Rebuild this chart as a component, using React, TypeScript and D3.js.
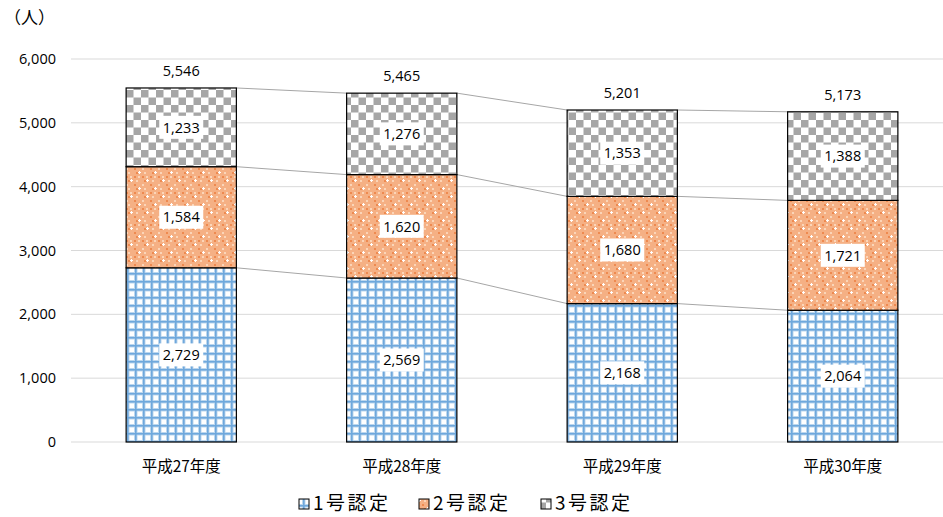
import React from "react";
import * as d3 from "d3";

const categories = ["平成27年度", "平成28年度", "平成29年度", "平成30年度"];
const seriesNames = ["1号認定", "2号認定", "3号認定"];
const nintei1 = [2729, 2569, 2168, 2064];
const nintei2 = [1584, 1620, 1680, 1721];
const nintei3 = [1233, 1276, 1353, 1388];
const yTicks = [0, 1000, 2000, 3000, 4000, 5000, 6000];

const W = 943;
const H = 517;
const FONT = "'Open Sans', 'Noto Sans', 'Noto Sans CJK JP', sans-serif";
const JFONT = "'Noto Sans CJK JP', 'Noto Sans', sans-serif";

export default function App() {
  const x = d3
    .scaleBand<string>()
    .domain(categories)
    .range([71, 953])
    .paddingInner(0.5)
    .paddingOuter(0.25);
  const y = d3.scaleLinear().domain([0, 6000]).range([442, 59]);
  const fmt = d3.format(",");

  const rows = categories.map((c, i) => ({
    cat: c,
    s0: nintei1[i],
    s1: nintei2[i],
    s2: nintei3[i],
  }));
  const stack = d3.stack<any>().keys(["s0", "s1", "s2"])(rows);
  const fills = ["url(#pBlue)", "url(#pOrange)", "url(#pGray)"];
  const bw = x.bandwidth();

  return (
    <svg width={W} height={H} style={{ position: "absolute", left: 0, top: 0, background: "#fff" }}>
      <defs>
        <pattern id="pBlue" patternUnits="userSpaceOnUse" width={8} height={8} x={126} y={0}>
          <rect width={8} height={8} fill="#ffffff" />
          <rect x={0} y={0} width={3.5} height={8} fill="#bdd7ee" />
          <rect x={0} y={0} width={8} height={3.5} fill="#bdd7ee" />
          <rect x={1} y={0} width={1.6} height={8} fill="#6fa8dc" />
          <rect x={0} y={1} width={8} height={1.6} fill="#6fa8dc" />
        </pattern>
        <pattern id="pOrange" patternUnits="userSpaceOnUse" width={16} height={16} x={126} y={0}>
          <rect width={16} height={16} fill="#f5b084" />
          <rect x={0} y={0} width={2} height={2} fill="#ee8a50" />
          <rect x={4} y={0} width={2} height={2} fill="#fbd5b8" />
          <rect x={8} y={0} width={2} height={2} fill="#ee8a50" />
          <rect x={12} y={0} width={2} height={2} fill="#fbd5b8" />
          <rect x={2} y={4} width={2} height={2} fill="#ee8a50" />
          <rect x={10} y={4} width={2} height={2} fill="#fbd5b8" />
          <rect x={0} y={8} width={2} height={2} fill="#fbd5b8" />
          <rect x={8} y={8} width={2} height={2} fill="#ee8a50" />
          <rect x={2} y={12} width={2} height={2} fill="#fbd5b8" />
          <rect x={10} y={12} width={2} height={2} fill="#ee8a50" />
          <rect x={5} y={3} width={1} height={3} fill="#ffffff" />
          <rect x={4} y={4} width={3} height={1} fill="#ffffff" />
          <rect x={13} y={11} width={1} height={3} fill="#ffffff" />
          <rect x={12} y={12} width={3} height={1} fill="#ffffff" />
        </pattern>
        <pattern id="pGray" patternUnits="userSpaceOnUse" width={15} height={15} x={126} y={0}>
          <rect width={15} height={15} fill="#ffffff" />
          <rect x={0} y={0} width={7.5} height={7.5} fill="#a6a6a6" />
          <rect x={7.5} y={7.5} width={7.5} height={7.5} fill="#a6a6a6" />
        </pattern>
      </defs>

      <text x={4} y={24} fontFamily={JFONT} fontSize={17} fill="#000">（人）</text>

      {yTicks.map((t) => (
        <g key={t}>
          <line x1={71} x2={943} y1={y(t)} y2={y(t)} stroke="#d9d9d9" strokeWidth={1} />
          <text x={56} y={y(t)} dy="0.35em" textAnchor="end" fontFamily={FONT} fontSize={14.5} fill="#000">
            {fmt(t)}
          </text>
        </g>
      ))}

      {/* connector lines between stack boundaries of neighbouring bars */}
      {stack.map((layer, si) =>
        layer.slice(0, -1).map((d, i) => {
          const next = layer[i + 1];
          return (
            <line
              key={`c-${si}-${i}`}
              x1={(x(categories[i]) as number) + bw}
              y1={y(d[1])}
              x2={x(categories[i + 1]) as number}
              y2={y(next[1])}
              stroke="#a6a6a6"
              strokeWidth={1}
            />
          );
        })
      )}

      {stack.map((layer, si) =>
        layer.map((d, i) => (
          <rect
            key={`b-${si}-${i}`}
            x={x(categories[i])}
            y={y(d[1])}
            width={bw}
            height={y(d[0]) - y(d[1])}
            fill={fills[si]}
            stroke="#000"
            strokeWidth={1.2}
          />
        ))
      )}

      {stack.map((layer, si) =>
        layer.map((d, i) => {
          const v = d[1] - d[0];
          const cx = (x(categories[i]) as number) + bw / 2;
          const cy = (y(d[0]) + y(d[1])) / 2;
          const label = fmt(v);
          const tw = 44;
          return (
            <g key={`l-${si}-${i}`}>
              <rect x={cx - tw / 2} y={cy - 11.5} width={tw} height={23} fill="#fff" />
              <text x={cx} y={cy} dy="0.36em" textAnchor="middle" fontFamily={FONT} fontSize={14.5} fill="#000">
                {label}
              </text>
            </g>
          );
        })
      )}

      {categories.map((c, i) => {
        const total = nintei1[i] + nintei2[i] + nintei3[i];
        const cx = (x(c) as number) + bw / 2;
        return (
          <g key={`t-${c}`}>
            <text x={cx} y={y(total) - 12} textAnchor="middle" fontFamily={FONT} fontSize={14.5} fill="#000">
              {fmt(total)}
            </text>
            <text x={cx} y={472} textAnchor="middle" fontFamily={JFONT} fontSize={15.5} fill="#000">
              {c}
            </text>
          </g>
        );
      })}

      {seriesNames.map((s, i) => {
        const lx = [299, 419, 541][i];
        return (
          <g key={s}>
            <rect x={lx} y={499} width={10} height={10} fill={fills[i]} stroke="#000" strokeWidth={1} />
            <text
              x={lx + 14}
              y={503}
              dy="0.35em"
              fontFamily={JFONT}
              fontSize={19}
              letterSpacing={2.5}
              fill="#000"
            >
              {s}
            </text>
          </g>
        );
      })}
    </svg>
  );
}
